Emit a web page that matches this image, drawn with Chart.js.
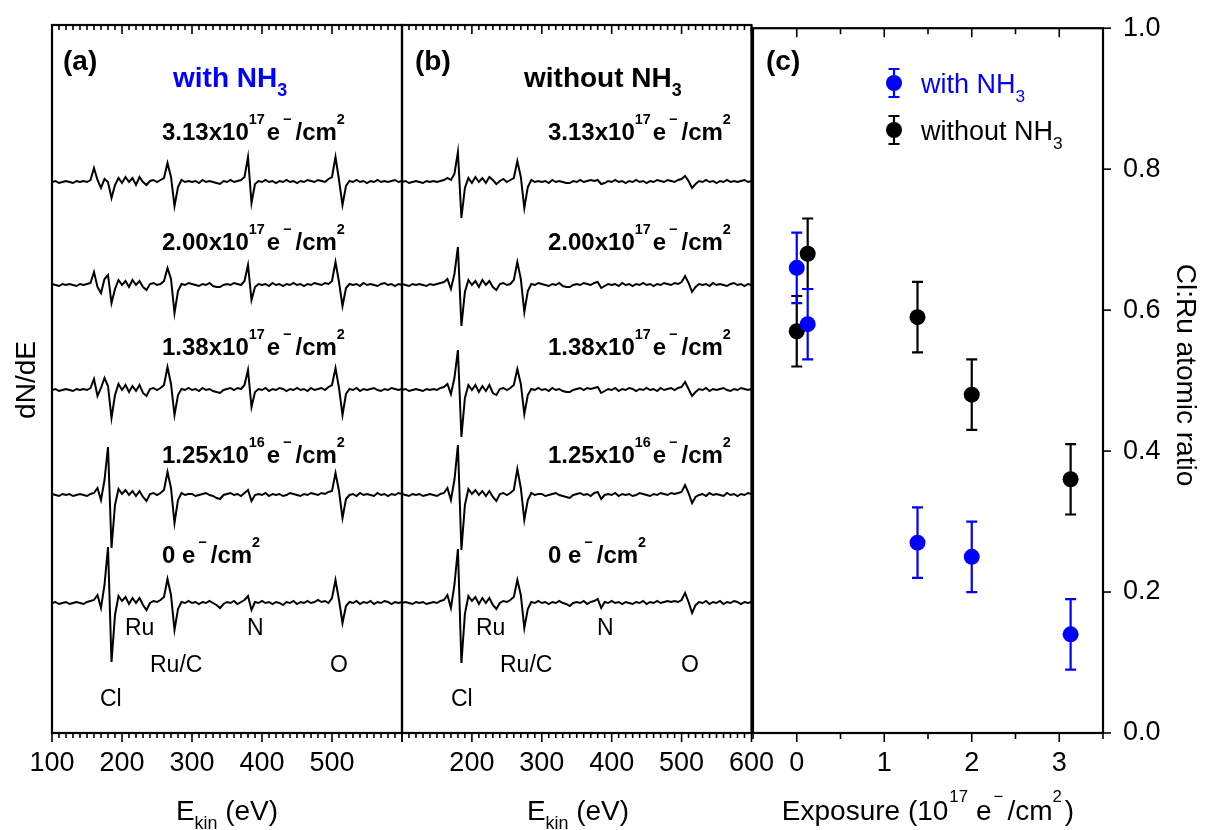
<!DOCTYPE html>
<html lang="en">
<head>
<meta charset="UTF-8">
<title>AES spectra and Cl:Ru ratio</title>
<script src="https://cdn.jsdelivr.net/npm/chart.js"></script>
<style>
  body { margin: 0; background: #fff; overflow: hidden; }
  #wrap { position: relative; width: 1205px; height: 830px; background: #fff; }
  #wrap canvas { position: absolute; top: 0; }
</style>
</head>
<body>
<div id="wrap">
  <canvas id="chartA" width="430" height="830" style="left:0px"></canvas>
  <canvas id="chartB" width="400" height="830" style="left:380px"></canvas>
  <canvas id="chartC" width="485" height="830" style="left:720px"></canvas>
</div>
<script>
const FONT = '"Liberation Sans", Arial, Helvetica, sans-serif';
const BLUE = '#0000ff';

// kinetic energy grid of the AES spectra (eV)
const energy = [
  100,105,110,115,120,125,130,135,140,145,
  150,155,160,165,170,175,180,185,190,195,
  200,205,210,215,220,225,230,235,240,245,
  250,255,260,265,270,275,280,285,290,295,
  300,305,310,315,320,325,330,335,340,345,
  350,355,360,365,370,375,380,385,390,395,
  400,405,410,415,420,425,430,435,440,445,
  450,455,460,465,470,475,480,485,490,495,
  500,505,510,515,520,525,530,535,540,545,
  550,555,560,565,570,575,580,585,590,595,
  600
];
const energyTicks = [100, 200, 300, 400, 500, 600];

// vertical offset of each stacked trace: 0, 1.25e16, 1.38e17, 2.00e17, 3.13e17 e-/cm2
const traceOffsets = [130, 238, 343, 448, 551];

// dN/dE, panel (a) with NH3
const withNH3_0 = [
  0,1,-1,0,1,-1,0,1,0,-1, 1,2,3,8,-5,18,56,-59,-12,7,
  2,6,-1,5,0,5,-2,-7,0,2, 1,3,6,24,8,-27,-6,1,0,2,
  0,1,-1,1,0,2,0,-2,-5,-1, 1,0,2,-1,1,3,7,-7,1,0,
  2,0,1,-1,1,0,-2,1,0,2, -1,1,0,2,0,1,3,1,2,0,
  5,23,3,-20,-3,1,0,2,-1,1, 0,2,-1,1,0,2,1,-1,1,0,1
];
const withNH3_1 = [
  1,0,-1,1,0,1,-1,0,1,0, -1,1,2,7,-5,15,48,-53,-10,6,
  1,5,0,4,-1,4,-2,-6,1,2, 0,2,5,23,7,-28,-5,2,0,1,
  1,-1,0,1,2,0,-1,-3,-4,0, 1,2,0,1,-1,2,5,-6,0,1,
  0,2,-1,1,0,1,-1,0,2,1, 0,-1,1,0,2,1,0,2,1,3,
  4,22,4,-23,-4,0,1,-1,2,0, 1,0,-1,2,0,1,-1,1,0,2,1
];
const withNH3_2 = [
  0,1,-1,0,1,0,-1,1,0,1, 0,2,11,-6,2,12,4,-28,-5,6,
  0,5,-2,4,-1,5,-3,-6,1,2, 0,2,5,23,6,-25,-5,1,0,2,
  0,1,-1,2,0,1,-1,-2,-3,0, 1,2,0,2,1,5,20,-17,-2,1,
  0,2,-1,1,0,2,1,-1,1,0, 2,0,1,-1,2,0,1,2,0,3,
  5,22,2,-25,-4,1,0,2,-1,1, 0,1,2,0,-1,1,0,2,1,0,1
];
const withNH3_3 = [
  1,0,-1,1,0,1,0,-1,1,0, 1,2,13,-2,-8,6,10,-18,-4,5,
  0,4,-2,5,0,4,-2,-5,1,2, 0,1,4,17,6,-28,-6,1,0,2,
  1,0,-1,1,0,2,-1,-2,-2,0, 1,0,2,1,0,4,20,-15,-2,1,
  0,1,-1,2,0,1,-1,1,0,2, 0,1,-1,1,0,2,1,0,2,1,
  4,23,3,-21,-3,1,0,1,-1,2, 0,1,0,-1,1,2,0,1,-1,1,0
];
const withNH3_4 = [
  0,1,-1,0,1,0,-1,1,0,1, 0,2,14,2,-6,3,0,-16,-3,4,
  -1,5,0,4,-3,5,0,-3,1,2, 0,2,4,19,5,-24,-5,2,0,1,
  0,1,-1,2,0,1,0,-1,-2,1, 0,2,0,1,2,5,25,-21,-2,1,
  0,2,0,1,-1,1,0,2,0,1, -1,1,0,2,1,0,2,1,0,3,
  5,25,2,-23,-4,1,0,2,0,1, -1,1,0,2,0,1,0,1,2,0,1
];

// dN/dE, panel (b) without NH3
const withoutNH3_0 = [
  0,1,0,-1,1,0,1,-1,0,1, 0,2,3,8,-5,18,54,-60,-11,7,
  2,6,-1,5,0,5,-2,-6,0,2, 1,3,6,23,8,-25,-6,1,0,2,
  0,1,-1,1,0,2,0,-1,-3,0, 1,0,2,-1,1,2,4,-5,1,0,
  2,0,1,-1,1,0,-1,1,0,2, -1,1,0,2,0,1,2,1,2,1,
  3,10,1,-10,-2,1,0,2,-1,1, 0,2,-1,1,0,2,1,-1,1,0,1
];
const withoutNH3_1 = [
  1,0,-1,1,0,1,-1,0,1,0, -1,1,2,7,-5,15,50,-55,-10,6,
  1,5,0,4,-1,4,-2,-6,1,2, 0,2,5,26,7,-25,-5,2,0,1,
  1,-1,0,1,2,0,-1,-2,-3,0, 1,2,0,1,-1,2,3,-4,0,1,
  0,2,-1,1,0,1,-1,0,2,1, 0,-1,1,0,2,1,0,2,1,2,
  3,10,2,-8,-2,0,1,-1,2,0, 1,0,-1,2,0,1,-1,1,0,2,1
];
const withoutNH3_2 = [
  0,1,-1,0,1,0,-1,1,0,1, 0,2,3,6,-4,12,40,-47,-8,5,
  0,5,-2,4,-1,5,-3,-5,1,2, 0,2,5,21,6,-24,-5,1,0,2,
  0,1,-1,2,0,1,-1,-2,-2,0, 1,2,0,2,1,2,3,-3,-1,1,
  0,2,-1,1,0,2,1,-1,1,0, 2,0,1,-1,2,0,1,2,0,2,
  3,8,1,-6,-2,1,0,2,-1,1, 0,1,2,0,-1,1,0,2,1,0,1
];
const withoutNH3_3 = [
  1,0,-1,1,0,1,0,-1,1,0, 1,2,3,6,-4,11,38,-41,-7,5,
  0,4,-2,5,0,4,-2,-5,1,2, 0,1,5,23,6,-27,-6,1,0,2,
  1,0,-1,1,0,2,-1,-2,-2,0, 1,0,2,1,0,2,3,-3,-1,1,
  0,1,-1,2,0,1,-1,1,0,2, 0,1,-1,1,0,2,1,0,2,1,
  3,9,2,-7,-2,1,0,1,-1,2, 0,1,0,-1,1,2,0,1,-1,1,0
];
const withoutNH3_4 = [
  0,1,-1,0,1,0,-1,1,0,1, 0,1,2,4,2,8,30,-36,-6,4,
  -1,5,0,4,-1,5,2,-2,1,3, 0,2,4,21,5,-26,-5,2,0,1,
  0,1,-1,2,0,1,0,-1,-1,1, 0,2,0,1,2,1,2,-2,-1,1,
  0,2,0,1,-1,1,0,2,0,1, -1,1,0,2,1,0,2,1,0,2,
  3,6,1,-6,-2,1,0,2,0,1, -1,1,0,2,0,1,0,1,2,0,1
];

// panel (c): Cl:Ru atomic ratio vs exposure (1e17 e-/cm2)
const exposure = [0, 0.125, 1.38, 2.00, 3.13];
const ratioWith = [0.66, 0.58, 0.27, 0.25, 0.14];
const errWith = [0.05, 0.05, 0.05, 0.05, 0.05];
const ratioWithout = [0.57, 0.68, 0.59, 0.48, 0.36];
const errWithout = [0.05, 0.05, 0.05, 0.05, 0.05];
const exposureTicks = [0, 1, 2, 3];
const ratioTicks = [0, 0.2, 0.4, 0.6, 0.8, 1.0];

// dose labels above each trace, bottom to top (rich text parts)
const doseLabels = [
  [['0 e'], ['\u2212', 'sup', 3], ['/cm', null, 4], ['2', 'sup']],
  [['1.25x10'], ['16', 'sup'], ['e', null, 2], ['\u2212', 'sup', 3], ['/cm', null, 4], ['2', 'sup']],
  [['1.38x10'], ['17', 'sup'], ['e', null, 2], ['\u2212', 'sup', 3], ['/cm', null, 4], ['2', 'sup']],
  [['2.00x10'], ['17', 'sup'], ['e', null, 2], ['\u2212', 'sup', 3], ['/cm', null, 4], ['2', 'sup']],
  [['3.13x10'], ['17', 'sup'], ['e', null, 2], ['\u2212', 'sup', 3], ['/cm', null, 4], ['2', 'sup']]
];
const doseBaselines = [563, 463, 355, 250, 140];

function partFont(p, it) {
  let size = it.size;
  if (p[1] === 'sup') size = it.size * 0.6;
  if (p[1] === 'sub') size = it.size * 0.64;
  return (it.bold ? 'bold ' : '') + size + 'px ' + FONT;
}

function drawRich(ctx, it) {
  ctx.save();
  ctx.fillStyle = it.color || '#000';
  ctx.textBaseline = 'alphabetic';
  ctx.textAlign = 'left';
  let total = 0;
  const widths = it.parts.map(p => {
    ctx.font = partFont(p, it);
    const w = ctx.measureText(p[0]).width + (p[2] || 0);
    total += w;
    return w;
  });
  ctx.translate(it.x, it.y);
  if (it.rot) ctx.rotate(it.rot);
  let x = it.align === 'center' ? -total / 2 : 0;
  it.parts.forEach((p, k) => {
    ctx.font = partFont(p, it);
    let dy = 0;
    if (p[1] === 'sup') dy = -it.size * 0.66;
    if (p[1] === 'sub') dy = it.size * 0.32;
    ctx.fillText(p[0], x + (p[2] || 0), dy);
    x += widths[k];
  });
  ctx.restore();
}

// text annotations, given in page coordinates
const richText = {
  id: 'richText',
  afterDraw(chart, args, opts) {
    const ctx = chart.ctx;
    ctx.save();
    ctx.translate(-opts.left, 0);
    (opts.items || []).forEach(it => drawRich(ctx, it));
    ctx.restore();
  }
};

// box frame plus major/minor tick marks
const frameTicks = {
  id: 'frameTicks',
  afterDraw(chart, args, o) {
    const { ctx, chartArea: a } = chart;
    const xs = chart.scales.x;
    ctx.save();
    ctx.strokeStyle = '#000';
    const seg = (x1, y1, x2, y2) => { ctx.beginPath(); ctx.moveTo(x1, y1); ctx.lineTo(x2, y2); ctx.stroke(); };
    ctx.lineWidth = 1.6;
    const n = Math.round((xs.max - xs.min) / o.minor);
    for (let k = 0; k <= n; k++) {
      const v = xs.min + k * o.minor;
      const r = v / o.major;
      const major = Math.abs(r - Math.round(r)) < 1e-6;
      const px = xs.getPixelForValue(v);
      const len = major ? o.majorLen : o.minorLen;
      seg(px, a.top, px, a.top + len);
      seg(px, a.bottom, px, a.bottom + len);
    }
    if (o.rightTicks) {
      const ys = chart.scales.y;
      ys.ticks.forEach(t => {
        const py = ys.getPixelForValue(t.value);
        seg(a.right, py, a.right + 8, py);
      });
    }
    ctx.lineWidth = 2.2;
    ctx.strokeRect(a.left, a.top, a.right - a.left, a.bottom - a.top);
    ctx.restore();
  }
};

const tickFont = { family: FONT, size: 27 };
const noGrid = { display: true, drawOnChartArea: false, drawTicks: true, tickLength: 8, color: 'rgba(0,0,0,0)' };

function makeSpectrum(id, left, pad, traces, hidden, items) {
  return new Chart(document.getElementById(id), {
    type: 'line',
    data: {
      datasets: traces.map((tr, k) => ({
        data: energy.map((e, i) => ({ x: e, y: traceOffsets[k] + tr[i] })),
        borderColor: '#000',
        borderWidth: 2,
        pointRadius: 0,
        tension: 0,
        fill: false
      }))
    },
    options: {
      responsive: false,
      animation: false,
      events: [],
      layout: { padding: { left: pad[0], right: pad[1], top: 25, bottom: 0 } },
      plugins: {
        legend: { display: false },
        tooltip: { enabled: false },
        frameTicks: { minor: 10, major: 100, majorLen: 9, minorLen: 5 },
        richText: { left: left, items: items }
      },
      scales: {
        x: {
          type: 'linear', min: 100, max: 600,
          afterFit: s => { s.height = 97; },
          afterBuildTicks: s => { s.ticks = energyTicks.map(v => ({ value: v })); },
          grid: noGrid,
          border: { display: false },
          ticks: {
            font: tickFont, color: '#000', padding: 6, maxRotation: 0, autoSkip: false,
            callback: v => (v === hidden ? '' : String(v))
          }
        },
        y: { type: 'linear', display: false, min: 0, max: 708 }
      }
    },
    plugins: [frameTicks, richText]
  });
}

function panelTexts(tag, tagX, head, headX, headColor, doseX, els, titleX) {
  const items = [
    { x: tagX, y: 70, parts: [[tag]], size: 28, bold: true },
    { x: headX, y: 87, parts: [[head], ['3', 'sub']], size: 28, bold: true, color: headColor },
    { x: titleX, y: 820, parts: [['E'], ['kin', 'sub'], [' (eV)']], size: 28, align: 'center' }
  ];
  doseLabels.forEach((p, k) => items.push({ x: doseX, y: doseBaselines[k], parts: p, size: 24, bold: true }));
  els.forEach(e => items.push({ x: e[1], y: e[2], parts: [[e[0]]], size: 23 }));
  return items;
}

const textsA = panelTexts('(a)', 63, 'with NH', 173, BLUE, 162,
  [['Ru', 125, 635], ['Ru/C', 150, 672], ['N', 247, 635], ['O', 330, 672], ['Cl', 100, 706]], 227);
textsA.push({ x: 35, y: 380, parts: [['dN/dE']], size: 28, align: 'center', rot: -Math.PI / 2 });

const textsB = panelTexts('(b)', 415, 'without NH', 524, '#000', 548,
  [['Ru', 476, 635], ['Ru/C', 500, 672], ['N', 597, 635], ['O', 681, 672], ['Cl', 451, 706]], 578);

makeSpectrum('chartA', 0, [52, 28],
  [withNH3_0, withNH3_1, withNH3_2, withNH3_3, withNH3_4], 600, textsA);
makeSpectrum('chartB', 380, [22, 27],
  [withoutNH3_0, withoutNH3_1, withoutNH3_2, withoutNH3_3, withoutNH3_4], 100, textsB);

// error bars for panel (c), drawn right after each dataset
const errorBars = {
  id: 'errorBars',
  afterDatasetDraw(chart, args) {
    const ds = chart.data.datasets[args.index];
    const ys = chart.scales.y;
    const ctx = chart.ctx;
    ctx.save();
    ctx.strokeStyle = ds.pointBackgroundColor;
    ctx.lineWidth = 2.2;
    args.meta.data.forEach((pt, i) => {
      const v = ds.data[i].y, e = ds.err[i];
      const t = ys.getPixelForValue(v + e), b = ys.getPixelForValue(v - e);
      ctx.beginPath();
      ctx.moveTo(pt.x, t); ctx.lineTo(pt.x, b);
      ctx.moveTo(pt.x - 5.5, t); ctx.lineTo(pt.x + 5.5, t);
      ctx.moveTo(pt.x - 5.5, b); ctx.lineTo(pt.x + 5.5, b);
      ctx.stroke();
    });
    ctx.restore();
  }
};

// legend with error-bar symbols for panel (c)
const legendC = {
  id: 'legendC',
  afterDraw(chart, args, o) {
    const ctx = chart.ctx;
    ctx.save();
    ctx.translate(-o.left, 0);
    chart.data.datasets.forEach((ds, k) => {
      const cx = 894, cy = k === 0 ? 83 : 130;
      ctx.strokeStyle = ds.pointBackgroundColor;
      ctx.fillStyle = ds.pointBackgroundColor;
      ctx.lineWidth = 2.2;
      ctx.beginPath();
      ctx.moveTo(cx, cy - 14); ctx.lineTo(cx, cy + 14);
      ctx.moveTo(cx - 5.5, cy - 14); ctx.lineTo(cx + 5.5, cy - 14);
      ctx.moveTo(cx - 5.5, cy + 14); ctx.lineTo(cx + 5.5, cy + 14);
      ctx.stroke();
      ctx.beginPath();
      ctx.arc(cx, cy, 8, 0, Math.PI * 2);
      ctx.fill();
      drawRich(ctx, { x: 921, y: cy + 10, parts: [[ds.label], ['3', 'sub']], size: 27, color: ds.pointBackgroundColor });
    });
    ctx.restore();
  }
};

const textsC = [
  { x: 766, y: 70, parts: [['(c)']], size: 28, bold: true },
  { x: 928, y: 820, parts: [['Exposure (10'], ['17', 'sup', 1], ['e', null, 8], ['\u2212', 'sup', 2], ['/cm', null, 4], ['2', 'sup'], [')', null, 3]], size: 28, align: 'center' },
  { x: 1177, y: 375, parts: [['Cl:Ru atomic ratio']], size: 28, align: 'center', rot: Math.PI / 2 }
];

new Chart(document.getElementById('chartC'), {
  type: 'scatter',
  data: {
    datasets: [
      {
        label: 'with NH',
        data: exposure.map((x, i) => ({ x: x, y: ratioWith[i] })),
        err: errWith,
        pointBackgroundColor: BLUE,
        pointBorderWidth: 0,
        pointRadius: 8,
        showLine: false
      },
      {
        label: 'without NH',
        data: exposure.map((x, i) => ({ x: x, y: ratioWithout[i] })),
        err: errWithout,
        pointBackgroundColor: '#000',
        pointBorderWidth: 0,
        pointRadius: 8,
        showLine: false
      }
    ]
  },
  options: {
    responsive: false,
    animation: false,
    events: [],
    layout: { padding: { left: 33, right: 0, top: 25, bottom: 0 } },
    plugins: {
      legend: { display: false },
      tooltip: { enabled: false },
      frameTicks: { minor: 0.5, major: 1, majorLen: 9, minorLen: 6, rightTicks: true },
      richText: { left: 720, items: textsC },
      legendC: { left: 720 }
    },
    scales: {
      x: {
        type: 'linear', min: -0.5, max: 3.5,
        afterFit: s => { s.height = 97; },
        afterBuildTicks: s => { s.ticks = exposureTicks.map(v => ({ value: v })); },
        grid: noGrid,
        border: { display: false },
        ticks: { font: tickFont, color: '#000', padding: 6, maxRotation: 0, autoSkip: false }
      },
      y: {
        type: 'linear', position: 'right', min: 0, max: 1,
        afterFit: s => { s.width = 102; },
        afterBuildTicks: s => { s.ticks = ratioTicks.map(v => ({ value: v })); },
        grid: noGrid,
        border: { display: false },
        ticks: { font: tickFont, color: '#000', padding: 12, callback: v => v.toFixed(1) }
      }
    }
  },
  plugins: [frameTicks, errorBars, legendC, richText]
});
</script>
</body>
</html>
